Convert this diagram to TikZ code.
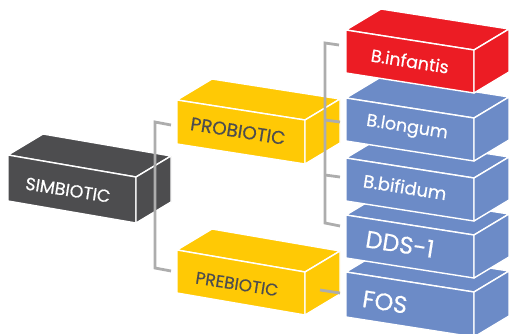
\documentclass[tikz,border=0pt]{standalone}
\usepackage{fontspec}
\setmainfont{Poppins}
\newfontfamily\lblfont{Poppins}[FakeBold=0.4]
\definecolor{cred}{HTML}{EC1C24}
\definecolor{cblue}{HTML}{6C8BC7}
\definecolor{cyel}{HTML}{FFC905}
\definecolor{cdark}{HTML}{4D4D4F}
\definecolor{cgray}{HTML}{ADADAD}
\newcommand{\mycuboid}[5]{%
  \path[face,fill=#5] (#1,#2) -- ++(128,#3) -- ++(35,-21) -- ++(-128,-#3) -- cycle;
  \path[face,fill=#5] (#1,#2) -- ++(128,#3) -- ++(0,#4) -- ++(-128,-#3) -- cycle;
  \path[face,fill=#5] (#1,#2) ++(128,#3) -- ++(35,-21) -- ++(0,#4) -- ++(-35,21) -- cycle;
}
\newcommand{\fsz}[1]{\lblfont\fontsize{#1}{#1}\selectfont}
\begin{document}
\begin{tikzpicture}[x=1pt,y=-1pt,
  face/.style={draw=white,line width=1.4pt,line join=round},
  lbl/.style={rotate=-9,inner sep=0pt,text=white},
  lbldark/.style={rotate=-9,inner sep=0pt,text=cdark},
  conn/.style={draw=cgray,line width=2.8pt}]
\useasboundingbox (0,0) rectangle (509,333);
\clip (0,0) rectangle (509,333);
% SIMBIOTIC
\mycuboid{8}{155}{22}{46}{cdark}
\node[lbl,font=\fsz{17.5}] (sim) at (68,190) {SIMBIOTIC};
% left bracket
\coordinate (pro-in) at (171,125);
\coordinate (pre-in) at (171,271);
\coordinate (l1) at (155,122);
\coordinate (l2) at (155,268);
\draw[conn] (pro-in) -- (l1) -- (l2) -- (pre-in);
% PROBIOTIC / PREBIOTIC
\mycuboid{177}{100}{20}{44}{cyel}
\node[lbldark,font=\fsz{18.5}] (pro) at (238,131) {PROBIOTIC};
\mycuboid{177}{250}{22}{43}{cyel}
\node[lbldark,font=\fsz{17}] (pre) at (237,284) {PREBIOTIC};
% stack
\mycuboid{346}{272}{20}{45}{cblue}
\node[lbl,font=\fsz{24}] (fos) at (385,302) {FOS};
\mycuboid{346}{215}{20}{43}{cblue}
\node[lbl,font=\fsz{24}] (dds) at (400,244) {DDS-1};
\mycuboid{346}{158}{20}{43}{cblue}
\node[lbl,font=\fsz{18}] (bif) at (405,187) {B.bifidum};
\mycuboid{346}{98}{20}{43}{cblue}
\node[lbl,font=\fsz{17.5}] (lon) at (407,128) {B.longum};
\mycuboid{346}{30}{20}{43}{cred}
\node[lbl,font=\fsz{17.5}] (inf) at (410,61) {B.infantis};
% right bracket
\coordinate (r1) at (325,43);
\coordinate (r2) at (325,120);
\coordinate (r3) at (325,175);
\coordinate (r4) at (325,223);
\coordinate (inf-in) at (339,45);
\coordinate (lon-in) at (340,122);
\coordinate (bif-in) at (340,177);
\coordinate (dds-in) at (340,226);
\draw[conn] (inf-in) -- (r1) -- (r4) -- (dds-in);
\draw[conn] (r2) -- (lon-in);
\draw[conn] (r3) -- (bif-in);
% prebiotic to FOS
\coordinate (pre-out) at (320,290);
\coordinate (fos-in) at (340,293);
\draw[conn] (pre-out) -- (fos-in);
\end{tikzpicture}
\end{document}
